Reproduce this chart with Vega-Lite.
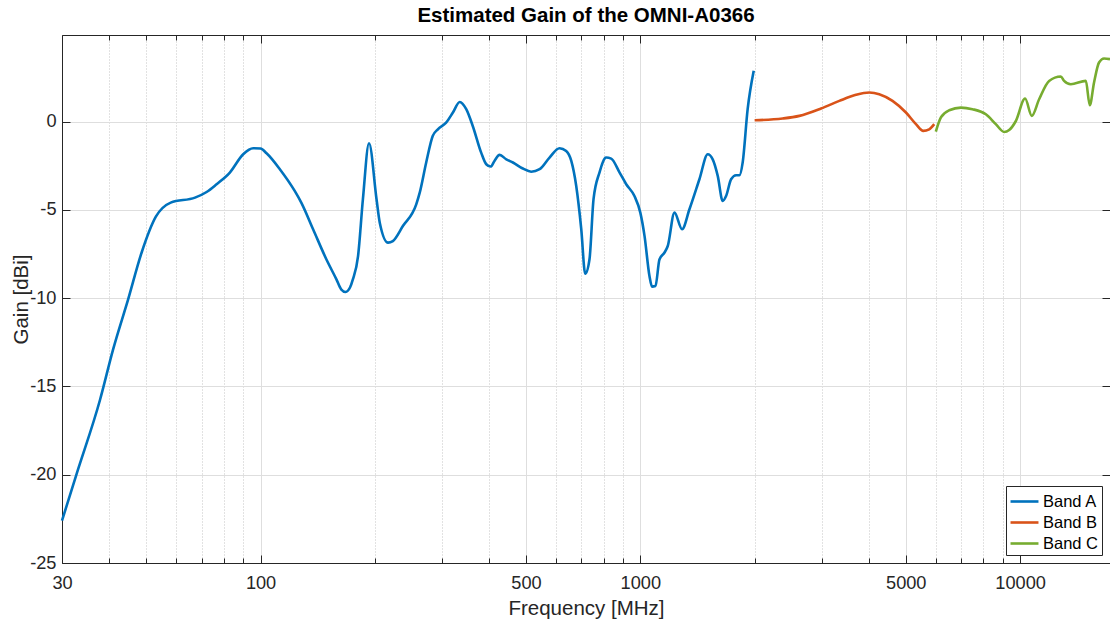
{
  "$schema": "https://vega.github.io/schema/vega-lite/v6.json",
  "width": 1048,
  "height": 528,
  "autosize": {"type": "none"},
  "padding": {"left": 62, "top": 35, "right": 0, "bottom": 59},
  "background": "white",
  "title": {"text": "Estimated Gain of the OMNI-A0366", "fontSize": 20.5, "fontWeight": "bold", "font": "Liberation Sans", "color": "#000000", "offset": 8, "anchor": "middle"},
  "config": {"view": {"stroke": null}, "font": "Liberation Sans"},
  "data": {"values": [
    {"band": "Band A", "f": 30, "g": -22.6},
    {"band": "Band A", "f": 32.8, "g": -19.94},
    {"band": "Band A", "f": 37.8, "g": -15.74},
    {"band": "Band A", "f": 40.9, "g": -12.9},
    {"band": "Band A", "f": 44.8, "g": -10.07},
    {"band": "Band A", "f": 48.6, "g": -7.43},
    {"band": "Band A", "f": 53.0, "g": -5.39},
    {"band": "Band A", "f": 58.0, "g": -4.59},
    {"band": "Band A", "f": 67.2, "g": -4.31},
    {"band": "Band A", "f": 72.1, "g": -3.99},
    {"band": "Band A", "f": 76.6, "g": -3.55},
    {"band": "Band A", "f": 83.0, "g": -2.89},
    {"band": "Band A", "f": 90.0, "g": -1.85},
    {"band": "Band A", "f": 95.6, "g": -1.51},
    {"band": "Band A", "f": 100, "g": -1.53},
    {"band": "Band A", "f": 103.7, "g": -1.8},
    {"band": "Band A", "f": 112.4, "g": -2.7},
    {"band": "Band A", "f": 123, "g": -3.93},
    {"band": "Band A", "f": 128, "g": -4.59},
    {"band": "Band A", "f": 137.5, "g": -6.1},
    {"band": "Band A", "f": 149, "g": -7.8},
    {"band": "Band A", "f": 158.4, "g": -8.94},
    {"band": "Band A", "f": 163, "g": -9.5},
    {"band": "Band A", "f": 167.5, "g": -9.65},
    {"band": "Band A", "f": 172, "g": -9.4},
    {"band": "Band A", "f": 175, "g": -8.94},
    {"band": "Band A", "f": 180.6, "g": -7.62},
    {"band": "Band A", "f": 186, "g": -4.4},
    {"band": "Band A", "f": 193, "g": -1.23},
    {"band": "Band A", "f": 202, "g": -4.4},
    {"band": "Band A", "f": 206, "g": -5.73},
    {"band": "Band A", "f": 216.6, "g": -6.86},
    {"band": "Band A", "f": 223, "g": -6.77},
    {"band": "Band A", "f": 237, "g": -5.92},
    {"band": "Band A", "f": 257, "g": -4.69},
    {"band": "Band A", "f": 262.5, "g": -4.03},
    {"band": "Band A", "f": 273, "g": -2.32},
    {"band": "Band A", "f": 284, "g": -0.82},
    {"band": "Band A", "f": 293, "g": -0.44},
    {"band": "Band A", "f": 308, "g": -0.06},
    {"band": "Band A", "f": 321, "g": 0.51},
    {"band": "Band A", "f": 334.6, "g": 1.11},
    {"band": "Band A", "f": 348, "g": 0.7},
    {"band": "Band A", "f": 362, "g": -0.25},
    {"band": "Band A", "f": 381, "g": -1.76},
    {"band": "Band A", "f": 393, "g": -2.42},
    {"band": "Band A", "f": 403.5, "g": -2.55},
    {"band": "Band A", "f": 413, "g": -2.23},
    {"band": "Band A", "f": 426, "g": -1.89},
    {"band": "Band A", "f": 443.7, "g": -2.14},
    {"band": "Band A", "f": 461.8, "g": -2.32},
    {"band": "Band A", "f": 490.6, "g": -2.66},
    {"band": "Band A", "f": 516, "g": -2.84},
    {"band": "Band A", "f": 543, "g": -2.7},
    {"band": "Band A", "f": 576.7, "g": -2.04},
    {"band": "Band A", "f": 612.7, "g": -1.51},
    {"band": "Band A", "f": 638, "g": -1.67},
    {"band": "Band A", "f": 658, "g": -2.23},
    {"band": "Band A", "f": 678, "g": -3.65},
    {"band": "Band A", "f": 699, "g": -6.1},
    {"band": "Band A", "f": 716, "g": -8.62},
    {"band": "Band A", "f": 734.8, "g": -7.8},
    {"band": "Band A", "f": 753, "g": -4.4},
    {"band": "Band A", "f": 780.6, "g": -2.89},
    {"band": "Band A", "f": 813, "g": -2.04},
    {"band": "Band A", "f": 838, "g": -2.1},
    {"band": "Band A", "f": 882, "g": -2.89},
    {"band": "Band A", "f": 918, "g": -3.55},
    {"band": "Band A", "f": 965, "g": -4.22},
    {"band": "Band A", "f": 1000, "g": -5.16},
    {"band": "Band A", "f": 1026, "g": -6.49},
    {"band": "Band A", "f": 1057, "g": -8.75},
    {"band": "Band A", "f": 1074, "g": -9.35},
    {"band": "Band A", "f": 1096, "g": -9.32},
    {"band": "Band A", "f": 1123, "g": -7.81},
    {"band": "Band A", "f": 1157, "g": -7.43},
    {"band": "Band A", "f": 1181, "g": -7.05},
    {"band": "Band A", "f": 1230, "g": -5.16},
    {"band": "Band A", "f": 1288, "g": -6.1},
    {"band": "Band A", "f": 1347, "g": -4.97},
    {"band": "Band A", "f": 1431, "g": -3.27},
    {"band": "Band A", "f": 1505, "g": -1.85},
    {"band": "Band A", "f": 1551, "g": -2.14},
    {"band": "Band A", "f": 1599, "g": -3.08},
    {"band": "Band A", "f": 1648, "g": -4.5},
    {"band": "Band A", "f": 1682, "g": -4.22},
    {"band": "Band A", "f": 1734, "g": -3.27},
    {"band": "Band A", "f": 1787, "g": -3.04},
    {"band": "Band A", "f": 1824, "g": -3.04},
    {"band": "Band A", "f": 1860, "g": -2.32},
    {"band": "Band A", "f": 1917, "g": 0.7},
    {"band": "Band A", "f": 1989, "g": 2.87},
    {"band": "Band B", "f": 2000, "g": 0.07},
    {"band": "Band B", "f": 2370, "g": 0.17},
    {"band": "Band B", "f": 2623, "g": 0.32},
    {"band": "Band B", "f": 2992, "g": 0.74},
    {"band": "Band B", "f": 3342, "g": 1.17},
    {"band": "Band B", "f": 3697, "g": 1.51},
    {"band": "Band B", "f": 4008, "g": 1.64},
    {"band": "Band B", "f": 4257, "g": 1.55},
    {"band": "Band B", "f": 4614, "g": 1.17},
    {"band": "Band B", "f": 5006, "g": 0.51},
    {"band": "Band B", "f": 5319, "g": -0.15},
    {"band": "Band B", "f": 5560, "g": -0.53},
    {"band": "Band B", "f": 5764, "g": -0.44},
    {"band": "Band B", "f": 5943, "g": -0.15},
    {"band": "Band C", "f": 6000, "g": -0.57},
    {"band": "Band C", "f": 6188, "g": 0.23},
    {"band": "Band C", "f": 6508, "g": 0.64},
    {"band": "Band C", "f": 6985, "g": 0.79},
    {"band": "Band C", "f": 7491, "g": 0.7},
    {"band": "Band C", "f": 8127, "g": 0.41},
    {"band": "Band C", "f": 8632, "g": -0.15},
    {"band": "Band C", "f": 9080, "g": -0.59},
    {"band": "Band C", "f": 9360, "g": -0.48},
    {"band": "Band C", "f": 9747, "g": 0.03},
    {"band": "Band C", "f": 10308, "g": 1.3},
    {"band": "Band C", "f": 10738, "g": 0.32},
    {"band": "Band C", "f": 11224, "g": 1.26},
    {"band": "Band C", "f": 11925, "g": 2.3},
    {"band": "Band C", "f": 12797, "g": 2.55},
    {"band": "Band C", "f": 13060, "g": 2.3},
    {"band": "Band C", "f": 13598, "g": 2.11},
    {"band": "Band C", "f": 14899, "g": 2.3},
    {"band": "Band C", "f": 15258, "g": 0.92},
    {"band": "Band C", "f": 15660, "g": 2.21},
    {"band": "Band C", "f": 16140, "g": 3.34},
    {"band": "Band C", "f": 16640, "g": 3.57},
    {"band": "Band C", "f": 17250, "g": 3.53}
  ]},
  "layer": [
    {
      "mark": {"type": "line", "strokeWidth": 2.6, "interpolate": "monotone"},
      "encoding": {
        "x": {
          "field": "f", "type": "quantitative",
          "scale": {"type": "log", "domain": [30, 17250], "nice": false},
          "axis": {
            "orient": "bottom",
            "values": [30,40,50,60,70,80,90,100,200,300,400,500,600,700,800,900,1000,2000,3000,4000,5000,6000,7000,8000,9000,10000],
            "labelExpr": "indexof([30,100,500,1000,5000,10000], datum.value) >= 0 ? '' + datum.value : ''",
            "labelFontSize": 18.2, "labelColor": "#262626", "labelPadding": 19,
            "labelFlush": false, "labelOverlap": false, "labelBound": false,
            "title": "Frequency [MHz]", "titleFontSize": 20.5, "titleFontWeight": "normal", "titleColor": "#262626", "titlePadding": 4,
            "tickSize": {"condition": {"test": "indexof([30,100,500,1000,5000,10000], datum.value) >= 0", "value": -8}, "value": -5},
            "tickColor": "#262626", "domainColor": "#262626",
            "grid": true,
            "gridColor": {"condition": {"test": "indexof([30,100,500,1000,5000,10000], datum.value) >= 0", "value": "#dedede"}, "value": "#c4c4c4"},
            "gridDash": {"condition": {"test": "indexof([30,100,500,1000,5000,10000], datum.value) >= 0", "value": []}, "value": [1, 2]}
          }
        },
        "y": {
          "field": "g", "type": "quantitative",
          "scale": {"domain": [-25, 4.9], "nice": false, "zero": false},
          "axis": {
            "orient": "left",
            "values": [-25, -20, -15, -10, -5, 0],
            "labelExpr": "'' + datum.value",
            "labelFontSize": 18.2, "labelColor": "#262626", "labelPadding": 14,
            "title": "Gain [dBi]", "titleFontSize": 20.5, "titleFontWeight": "normal", "titleColor": "#262626", "titlePadding": -2,
            "tickSize": -8, "tickColor": "#262626", "domainColor": "#262626",
            "grid": true, "gridColor": "#dedede"
          }
        },
        "color": {
          "field": "band", "type": "nominal",
          "scale": {"domain": ["Band A", "Band B", "Band C"], "range": ["#0072BD", "#D95319", "#77AC30"]},
          "legend": {
            "title": null, "orient": "bottom-right", "offset": 8,
            "symbolType": "M-1.27,0H1.27", "symbolStrokeWidth": 2.6, "symbolSize": 484,
            "symbolOffset": 3,
            "labelFontSize": 16.5, "labelColor": "#000000", "labelOffset": 6,
            "strokeColor": "#262626", "fillColor": "white", "padding": 3, "rowPadding": 0
          }
        }
      }
    },
    {
      "mark": {"type": "line", "strokeOpacity": 0},
      "encoding": {
        "x": {
          "field": "f", "type": "quantitative",
          "axis": {
            "orient": "top", "labels": false, "title": null, "grid": false,
            "values": [30,40,50,60,70,80,90,100,200,300,400,500,600,700,800,900,1000,2000,3000,4000,5000,6000,7000,8000,9000,10000],
            "tickSize": {"condition": {"test": "indexof([30,100,500,1000,5000,10000], datum.value) >= 0", "value": -8}, "value": -5},
            "tickColor": "#262626", "domainColor": "#262626"
          }
        },
        "y": {
          "field": "g", "type": "quantitative",
          "axis": {
            "orient": "right", "labels": false, "title": null, "grid": false,
            "values": [-25, -20, -15, -10, -5, 0],
            "tickSize": -8, "tickColor": "#262626", "domainColor": "#262626"
          }
        },
        "detail": {"field": "band"}
      }
    }
  ],
  "resolve": {"axis": {"x": "independent", "y": "independent"}}
}
